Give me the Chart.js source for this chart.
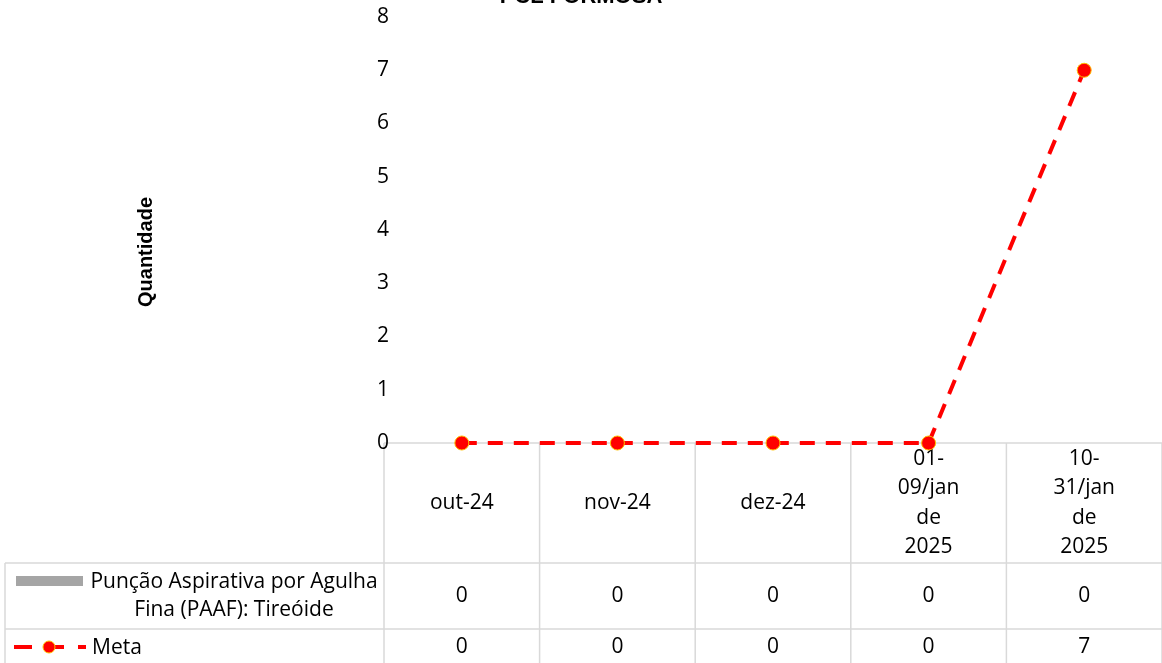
<!DOCTYPE html>
<html>
<head>
<meta charset="utf-8">
<script src="https://cdn.jsdelivr.net/npm/chart.js@4/dist/chart.umd.min.js"></script>
<style>
  html, body { margin: 0; padding: 0; background: #fff; }
  #wrap { width: 1162px; height: 663px; position: relative; }
</style>
</head>
<body>
<div id="wrap"><canvas id="chart"></canvas></div>
<script>
// data
const categories = ['out-24', 'nov-24', 'dez-24', ['01-', '09/jan', 'de', '2025'], ['10-', '31/jan', 'de', '2025']];
const paafValues = [0, 0, 0, 0, 0];
const metaValues = [0, 0, 0, 0, 7];
const yTicks = [0, 1, 2, 3, 4, 5, 6, 7, 8];
const chartTitle = 'PCL FORMOSA';
const yTitle = 'Quantidade';
const paafLabel = ['Punção Aspirativa por Agulha', 'Fina (PAAF): Tireóide'];
const metaLabel = 'Meta';

const FONT = '"Open Sans", "Noto Sans", sans-serif';
const GRID = '#d9d9d9';

/* table + titles + y labels */
const tablePlugin = {
  id: 'dataTable',
  beforeDatasetsDraw(chart) {
    const ctx = chart.ctx;
    const x = chart.scales.x;
    const y = chart.scales.y;
    const area = chart.chartArea;
    const n = categories.length;
    const colW = (area.right - area.left) / n;
    const top = area.bottom;
    const row1 = 563, row2 = 629, bottom = 663;

    ctx.save();
    ctx.strokeStyle = GRID;
    ctx.lineWidth = 1.5;
    ctx.beginPath();
    ctx.moveTo(area.left, top); ctx.lineTo(area.right, top);
    ctx.moveTo(5, row1); ctx.lineTo(area.right, row1);
    ctx.moveTo(5, row2); ctx.lineTo(area.right, row2);
    for (let i = 0; i <= n; i++) {
      const vx = area.left + i * colW;
      ctx.moveTo(vx, top); ctx.lineTo(vx, bottom);
    }
    ctx.moveTo(5, row1); ctx.lineTo(5, bottom);
    ctx.stroke();

    ctx.fillStyle = '#000';
    ctx.font = '21px ' + FONT;
    ctx.textAlign = 'center';
    ctx.textBaseline = 'middle';
    const hMid = (top + row1) / 2;
    const lh = 29.5;
    categories.forEach((c, i) => {
      const cx = x.getPixelForValue(i);
      const lines = Array.isArray(c) ? c : [c];
      lines.forEach((l, k) => {
        ctx.fillText(l, cx, hMid + (k - (lines.length - 1) / 2) * lh);
      });
      ctx.fillText(String(paafValues[i]), cx, (row1 + row2) / 2);
      ctx.fillText(String(metaValues[i]), cx, 647);
    });

    // y tick labels
    ctx.textAlign = 'right';
    yTicks.forEach(t => ctx.fillText(String(t), area.left + 5, y.getPixelForValue(t)));

    // legend keys
    ctx.textAlign = 'center';
    ctx.fillStyle = '#a5a5a5';
    ctx.fillRect(16, 576, 67, 10);
    ctx.fillStyle = '#000';
    ctx.fillText(paafLabel[0], 234, 582);
    ctx.fillText(paafLabel[1], 234, 610);
    ctx.textAlign = 'left';
    ctx.fillText(metaLabel, 92, 648);

    ctx.strokeStyle = '#ff0000';
    ctx.lineWidth = 4;
    ctx.setLineDash([18, 14]);
    ctx.beginPath();
    ctx.moveTo(14, 647); ctx.lineTo(86, 647);
    ctx.stroke();
    ctx.setLineDash([]);
    ctx.beginPath();
    ctx.arc(49, 647, 6, 0, Math.PI * 2);
    ctx.fillStyle = '#ff0000';
    ctx.fill();
    ctx.strokeStyle = '#ffc000';
    ctx.lineWidth = 1;
    ctx.stroke();

    // titles
    ctx.fillStyle = '#000';
    ctx.font = 'bold 22px "Liberation Sans", Arial, sans-serif';
    ctx.textAlign = 'center';
    ctx.textBaseline = 'alphabetic';
    ctx.fillText(chartTitle, chart.width / 2, 3);

    ctx.translate(146, 252);
    ctx.rotate(-Math.PI / 2);
    ctx.font = 'bold 20px "Liberation Sans", Arial, sans-serif';
    ctx.textBaseline = 'middle';
    ctx.fillText(yTitle, 0, 0);
    ctx.restore();
  }
};

document.addEventListener('DOMContentLoaded', () => {
  const canvas = document.getElementById('chart');
  new Chart(canvas.getContext('2d'), {
    type: 'bar',
    data: {
      labels: categories,
      datasets: [
        {
          type: 'bar',
          label: paafLabel.join(' '),
          data: paafValues,
          backgroundColor: '#a5a5a5',
          order: 2,
        },
        {
          type: 'line',
          label: metaLabel,
          data: metaValues,
          borderColor: '#ff0000',
          borderWidth: 4,
          borderDash: [15, 11],
          pointRadius: 7,
          pointBackgroundColor: '#ff0000',
          pointBorderColor: '#ffc000',
          pointBorderWidth: 1,
          clip: false,
          order: 1,
        },
      ],
    },
    options: {
      responsive: true,
      maintainAspectRatio: false,
      animation: false,
      layout: { autoPadding: false, padding: { left: 0, right: 0, top: 17, bottom: 220 } },
      plugins: {
        legend: { display: false },
        title: { display: false },
        tooltip: { enabled: false },
      },
      scales: {
        x: {
          display: false,
          offset: true,
        },
        y: {
          min: yTicks[0],
          max: yTicks[yTicks.length - 1],
          grid: { display: false, drawTicks: false },
          border: { display: false },
          ticks: { display: false, stepSize: 1 },
          afterFit(scale) { scale.width = 384; },
        },
      },
    },
    plugins: [tablePlugin],
  });
});
</script>
</body>
</html>
